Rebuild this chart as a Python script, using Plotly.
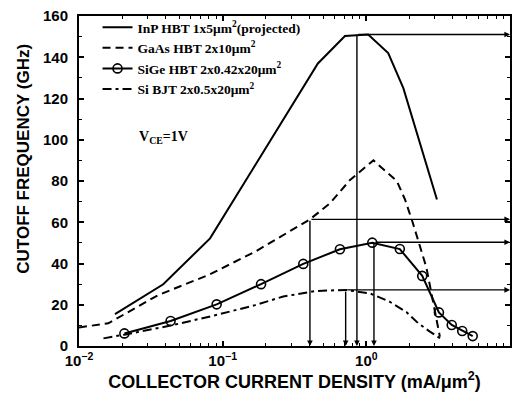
import math
import plotly.graph_objects as go

# ---- data ----
inp_x = [0.0178, 0.0386, 0.0817, 0.46, 0.71, 1.03, 1.42, 1.81, 3.1]
inp_y = [15.5, 29.9, 52.2, 137, 150.3, 151, 142, 125, 71]

gaas_x = [0.01, 0.016, 0.0356, 0.08, 0.168, 0.405, 0.558, 0.77, 1.12, 1.63, 1.86, 2.1, 2.62, 2.9, 3.25]
gaas_y = [9, 11, 24.7, 34.5, 45.7, 61.4, 69.2, 80.5, 90, 80, 71, 60, 38, 22, 4.5]

sige_x = [0.0207, 0.0434, 0.0908, 0.185, 0.364, 0.655, 1.10, 1.71, 2.45, 3.2, 3.93, 4.65, 5.5]
sige_y = [6.1, 12.1, 20.2, 30, 39.8, 46.9, 50.1, 47, 34, 16.3, 10.2, 7.3, 4.8]

si_x = [0.0148, 0.0207, 0.0434, 0.09, 0.168, 0.264, 0.45, 0.72, 1.06, 1.45, 1.9, 2.3, 2.77, 3.3]
si_y = [3.7, 5.5, 9.9, 15, 19.8, 24, 26.7, 27.2, 25.5, 21.5, 16.5, 11, 7, 3.5]

# peak markers (current density at peak fT, peak fT)
peak_x = [0.86, 0.405, 1.13, 0.718]
peak_y = [151, 61.4, 50.3, 27.2]

names = [
    "InP HBT 1x5μm<sup>2</sup>(projected)",
    "GaAs HBT 2x10μm<sup>2</sup>",
    "SiGe HBT 2x0.42x20μm<sup>2</sup>",
    "Si BJT 2x0.5x20μm<sup>2</sup>",
]
x_ticks = [0.01, 0.1, 1, 10]
x_ticktext = ["10<sup>−2</sup>", "10<sup>−1</sup>", "10<sup>0</sup>", "10<sup>1</sup>"]
y_ticks = [0, 20, 40, 60, 80, 100, 120, 140, 160]

X_MAX = 10

fig = go.Figure()
fig.add_trace(go.Scatter(x=inp_x, y=inp_y, mode="lines", name=names[0],
                         line=dict(color="black", width=2)))
fig.add_trace(go.Scatter(x=gaas_x, y=gaas_y, mode="lines", name=names[1],
                         line=dict(color="black", width=2, dash="8px,5px")))
fig.add_trace(go.Scatter(x=sige_x, y=sige_y, mode="lines+markers", name=names[2],
                         line=dict(color="black", width=2),
                         marker=dict(symbol="circle-open", size=9, color="black",
                                     line=dict(width=1.6))))
fig.add_trace(go.Scatter(x=si_x, y=si_y, mode="lines", name=names[3],
                         line=dict(color="black", width=2, dash="9px,4px,3px,4px")))

annotations = []
for px, py in zip(peak_x, peak_y):
    # horizontal arrow to the right axis
    annotations.append(dict(x=math.log10(X_MAX), y=py, ax=math.log10(px), ay=py,
                            xref="x", yref="y", axref="x", ayref="y",
                            showarrow=True, arrowhead=2, arrowsize=0.8,
                            arrowwidth=1.4, arrowcolor="black", text=""))
    # vertical arrow down to the x axis
    annotations.append(dict(x=math.log10(px), y=0, ax=math.log10(px), ay=py,
                            xref="x", yref="y", axref="x", ayref="y",
                            showarrow=True, arrowhead=2, arrowsize=0.8,
                            arrowwidth=1.4, arrowcolor="black", text=""))

annotations.append(dict(x=0.195, y=0.633, xref="paper", yref="paper",
                        text="V<sub>CE</sub>=1V", showarrow=False,
                        font=dict(family="Liberation Serif", size=14, color="black",
                                  weight="bold"),
                        xanchor="center", yanchor="middle"))

# y-axis title (placed as in the reference, above the axis centre)
annotations.append(dict(x=-0.128, y=0.567, xref="paper", yref="paper",
                        text="CUTOFF FREQUENCY (GHz)", textangle=-90, showarrow=False,
                        font=dict(family="Liberation Sans", size=17, color="black",
                                  weight="bold"),
                        xanchor="center", yanchor="middle"))

minor_x = [m * 10 ** e for e in (-2, -1, 0) for m in range(2, 10)]

axis_common = dict(showline=True, linecolor="black", linewidth=2, mirror="allticks",
                   ticks="inside", ticklen=5, tickwidth=1.5, tickcolor="black",
                   showgrid=False, zeroline=False, automargin=False,
                   tickfont=dict(family="Liberation Sans", size=15, color="black",
                                 weight="bold"))

fig.update_layout(
    width=521, height=394,
    margin=dict(l=79, r=11, t=16, b=48),
    paper_bgcolor="white", plot_bgcolor="white",
    showlegend=True,
    legend=dict(x=0.043, y=1.012, xanchor="left", yanchor="top",
                bgcolor="rgba(0,0,0,0)", borderwidth=0,
                font=dict(family="Liberation Serif", size=13.5, color="black",
                          weight="bold"),
                tracegroupgap=0, itemwidth=30),
    annotations=annotations,
    xaxis=dict(type="log", range=[-2, 1], tickvals=x_ticks, ticktext=x_ticktext,
               minor=dict(tickvals=minor_x, ticks="inside", ticklen=3,
                          tickcolor="black", tickwidth=1),
               title=dict(text="COLLECTOR CURRENT DENSITY (mA/μm<sup>2</sup>)",
                          font=dict(family="Liberation Sans", size=18, color="black",
                                    weight="bold"), standoff=2),
               **axis_common),
    yaxis=dict(range=[0, 160], tickvals=y_ticks,
               minor=dict(dtick=10, ticks="inside", ticklen=3,
                          tickcolor="black", tickwidth=1),
               ticklabelstandoff=6,
               **axis_common),
)

fig.write_html("out.html")
